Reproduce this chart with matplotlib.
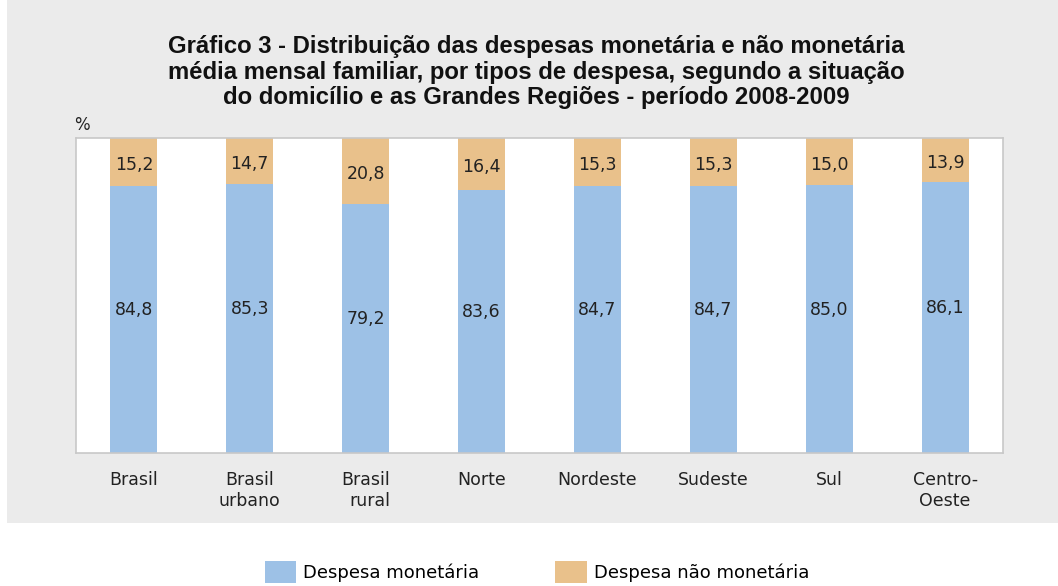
import numpy as np
import matplotlib.pyplot as plt
from matplotlib.patches import Patch, Rectangle

plt.rcParams['font.family'] = ['DejaVu Sans']

categories = ['Brasil', 'Brasil\nurbano', 'Brasil\nrural', 'Norte', 'Nordeste',
              'Sudeste', 'Sul', 'Centro-\nOeste']
monetaria = [84.8, 85.3, 79.2, 83.6, 84.7, 84.7, 85.0, 86.1]
nao_monetaria = [15.2, 14.7, 20.8, 16.4, 15.3, 15.3, 15.0, 13.9]

BLUE = '#9dc1e6'
ORANGE = '#e9c18b'
BG = '#ebebeb'
TXT = '#222222'


def fmt(v):
    return f'{v:.1f}'.replace('.', ',')


fig = plt.figure(figsize=(10.58, 5.86), dpi=100)
fig.patches.append(Rectangle((7 / 1058, 63 / 586), 1 - 7 / 1058, 1 - 63 / 586,
                             transform=fig.transFigure, facecolor=BG,
                             edgecolor='none', zorder=-10))

ax = fig.add_axes([76 / 1058, 133 / 586, 927 / 1058, 315 / 586])
ax.set_facecolor('white')
x = np.arange(len(categories))
ax.bar(x, monetaria, width=0.405, color=BLUE, zorder=2)
ax.bar(x, nao_monetaria, bottom=monetaria, width=0.405, color=ORANGE, zorder=2)

for i in range(len(categories)):
    ax.text(x[i], monetaria[i] / 2 + 3, fmt(monetaria[i]), ha='center',
            va='center', fontsize=12.5, color=TXT)
    ax.text(x[i], monetaria[i] + nao_monetaria[i] / 2 - 1, fmt(nao_monetaria[i]),
            ha='center', va='center', fontsize=12.5, color=TXT)

ax.set_xlim(-0.5, len(categories) - 0.5)
ax.set_ylim(0, 100)
ax.set_yticks([])
ax.set_xticks(x)
ax.set_xticklabels(categories, fontsize=12.5, color=TXT, linespacing=1.2)
ax.get_xticklabels()[2].set_multialignment('right')
ax.tick_params(axis='x', length=0, pad=13)
for s in ax.spines.values():
    s.set_color('#c8c8c8')
    s.set_linewidth(1.2)

fig.text(74 / 1058, 1 - 125 / 586, '%', fontsize=12, ha='left', va='center',
         color=TXT)
fig.text(536 / 1058, 1 - 72 / 586,
         'Gráfico 3 - Distribuição das despesas monetária e não monetária\n'
         'média mensal familiar, por tipos de despesa, segundo a situação\n'
         'do domicílio e as Grandes Regiões - período 2008-2009',
         ha='center', va='center', fontsize=17.2, fontweight='bold',
         family='Liberation Sans', linespacing=1.14, color='#111111')

handles = [Patch(facecolor=BLUE, label='Despesa monetária'),
           Patch(facecolor=ORANGE, label='Despesa não monetária')]
fig.legend(handles=handles, loc='center', bbox_to_anchor=(537 / 1058, 1 - 572 / 586),
           ncol=2, frameon=False, fontsize=13, handlelength=1.75,
           handleheight=1.5, columnspacing=4.2, handletextpad=0.4,
           borderpad=0, borderaxespad=0)

fig.savefig('out.png', dpi=100)
